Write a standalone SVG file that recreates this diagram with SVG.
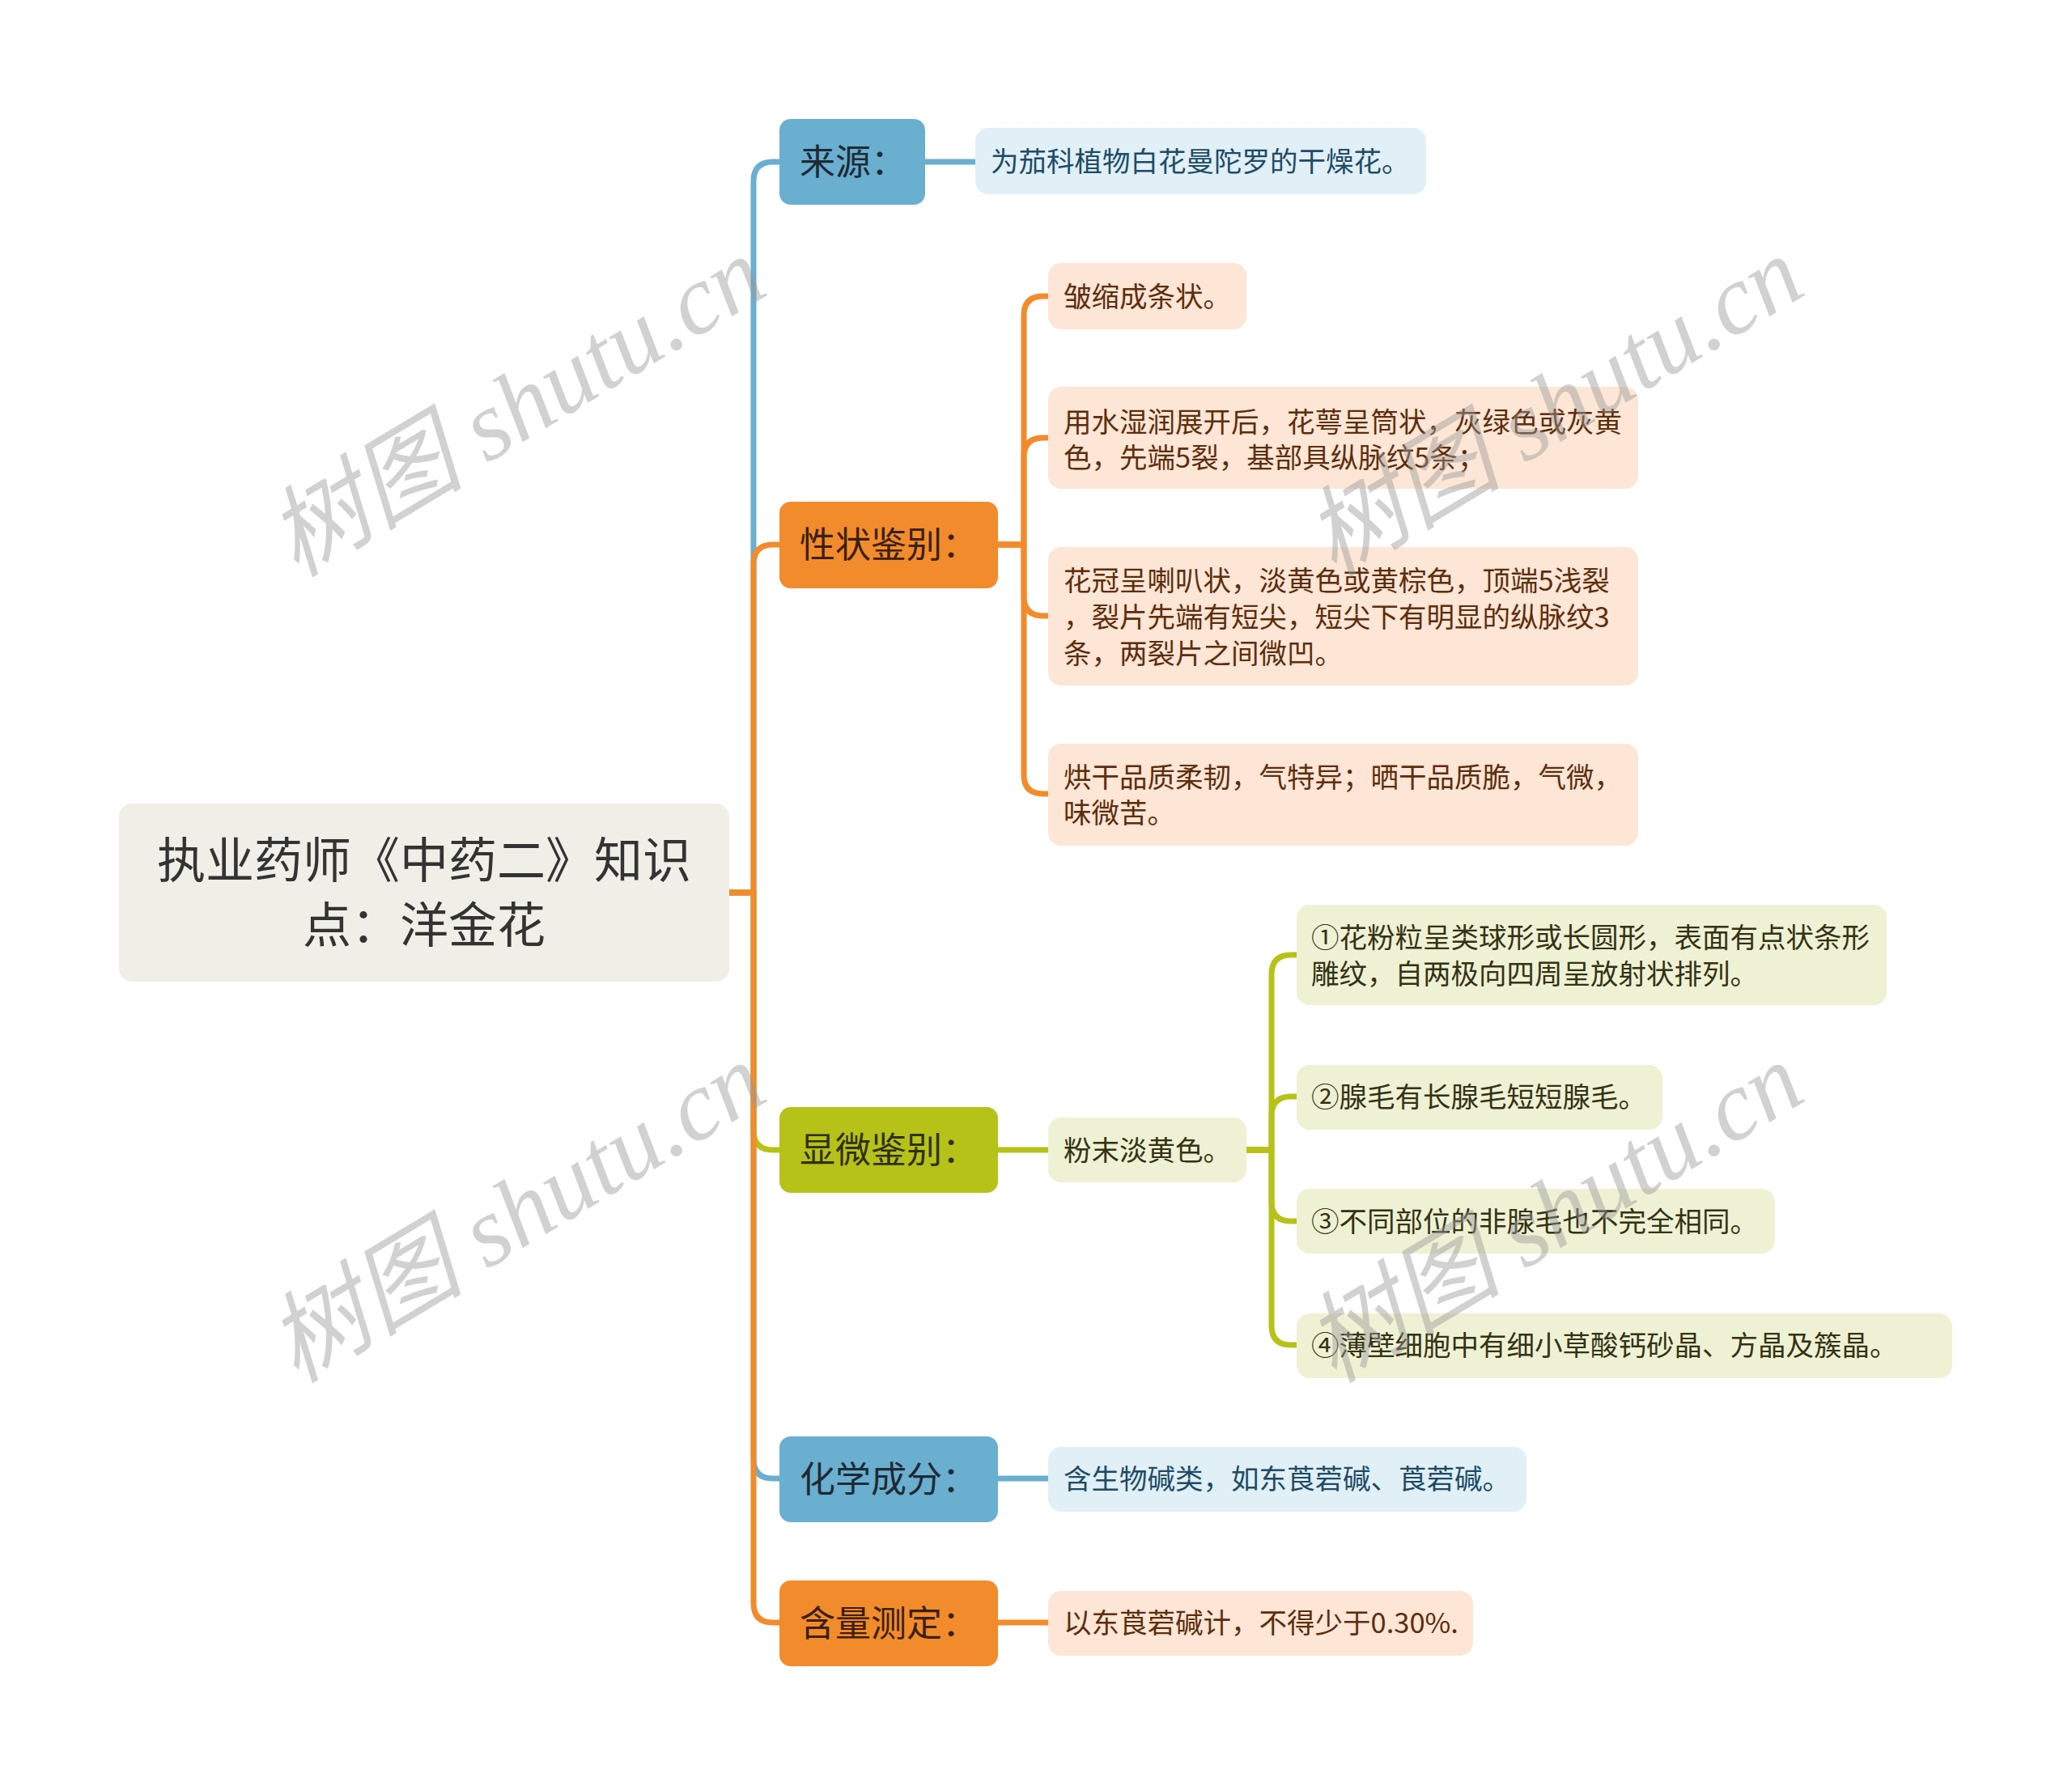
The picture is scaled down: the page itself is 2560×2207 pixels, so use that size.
<svg xmlns="http://www.w3.org/2000/svg" width="2560" height="2207" viewBox="0 0 2560 2207">
<style>
.cn{font-family:"Noto Sans CJK SC","Noto Sans",sans-serif}
.c{fill:none;stroke-width:7;stroke-linejoin:round}
.cb{stroke:#6aaed0}.co{stroke:#f28b2c}.cg{stroke:#b6c218}
.root{fill:#efefe7}
.bb{fill:#6aaed0}.bo{fill:#f28b2c}.bg{fill:#b6c218}
.lb{fill:#e1eff7}.lo{fill:#fde6d6}.lg{fill:#eff1d4}
.tr{font-size:60px;fill:#333333}
.tbr{font-size:44px}
.tl{font-size:34.5px}
.tb{fill:#1d4b68}.to{fill:#5e2d0c}.tg{fill:#333314}
.wm{font-family:"Liberation Serif","Noto Sans CJK SC",serif;font-style:italic;font-size:122px;fill:#9a9a9a;fill-opacity:0.45}
</style>
<rect width="2560" height="2207" fill="#ffffff"/>
<g id="connectors">
<path class="c cb" d="M901 1103 H931 V224 Q931 200 955 200 H963"/>
<path class="c cb" d="M1143 200 H1205"/>
<path class="c cb" d="M901 1103 H931 V1803 Q931 1827 955 1827 H963"/>
<path class="c cb" d="M1233 1827 H1295"/>
<path class="c cg" d="M901 1103 H931 V1397 Q931 1421 955 1421 H963"/>
<path class="c cg" d="M1233 1421 H1295"/>
<path class="c cg" d="M1540 1421 H1571 V1204 Q1571 1180 1595 1180 H1602"/>
<path class="c cg" d="M1540 1421 H1571 V1379 Q1571 1355 1595 1355 H1602"/>
<path class="c cg" d="M1540 1421 H1571 V1485 Q1571 1509 1595 1509 H1602"/>
<path class="c cg" d="M1540 1421 H1571 V1638 Q1571 1662 1595 1662 H1602"/>
<path class="c co" d="M901 1103 H931 V697 Q931 673 955 673 H963"/>
<path class="c co" d="M1233 673 H1265 V390 Q1265 366 1289 366 H1295"/>
<path class="c co" d="M1233 673 H1265 V565 Q1265 541 1289 541 H1295"/>
<path class="c co" d="M1233 673 H1265 V737 Q1265 761 1289 761 H1295"/>
<path class="c co" d="M1233 673 H1265 V957 Q1265 981 1289 981 H1295"/>
<path class="c co" d="M901 1103 H931 V1981 Q931 2005 955 2005 H963"/>
<path class="c co" d="M1233 2005 H1295"/>
</g>
<g id="root">
<rect class="root" x="147" y="993" width="754" height="220" rx="16"/>
<text class="cn tr" x="524" y="1085" text-anchor="middle">执业药师《中药二》知识</text>
<text class="cn tr" x="524" y="1165" text-anchor="middle">点：洋金花</text>
</g>
<g id="b1">
<rect class="bb" x="963" y="147" width="180" height="106" rx="14"/>
<text class="cn tbr" x="988" y="216" fill="#1f2a33">来源：</text>
</g>
<g id="b1l">
<rect class="lb" x="1205" y="158" width="557" height="82" rx="16"/>
<text class="cn tl tb" x="1224" y="212">为茄科植物白花曼陀罗的干燥花。</text>
</g>
<g id="b2">
<rect class="bo" x="963" y="620" width="270" height="107" rx="14"/>
<text class="cn tbr" x="988" y="689" fill="#3b1f08">性状鉴别：</text>
</g>
<g id="b2l1">
<rect class="lo" x="1295" y="325" width="245" height="82" rx="16"/>
<text class="cn tl to" x="1314" y="379">皱缩成条状。</text>
</g>
<g id="b2l2">
<rect class="lo" x="1295" y="478" width="729" height="126" rx="16"/>
<text class="cn tl to" x="1314" y="534">用水湿润展开后，花萼呈筒状，灰绿色或灰黄</text>
<text class="cn tl to" x="1314" y="578">色，先端5裂，基部具纵脉纹5条；</text>
</g>
<g id="b2l3">
<rect class="lo" x="1295" y="676" width="729" height="171" rx="16"/>
<text class="cn tl to" x="1314" y="730">花冠呈喇叭状，淡黄色或黄棕色，顶端5浅裂</text>
<text class="cn tl to" x="1314" y="775">，裂片先端有短尖，短尖下有明显的纵脉纹3</text>
<text class="cn tl to" x="1314" y="820">条，两裂片之间微凹。</text>
</g>
<g id="b2l4">
<rect class="lo" x="1295" y="919" width="729" height="126" rx="16"/>
<text class="cn tl to" x="1314" y="973">烘干品质柔韧，气特异；晒干品质脆，气微，</text>
<text class="cn tl to" x="1314" y="1017">味微苦。</text>
</g>
<g id="b3">
<rect class="bg" x="963" y="1368" width="270" height="106" rx="14"/>
<text class="cn tbr" x="988" y="1437" fill="#2f2f0c">显微鉴别：</text>
</g>
<g id="b3l">
<rect class="lg" x="1295" y="1381" width="245" height="80" rx="16"/>
<text class="cn tl tg" x="1314" y="1434">粉末淡黄色。</text>
</g>
<g id="b3s1">
<rect class="lg" x="1602" y="1118" width="729" height="124" rx="16"/>
<text class="cn tl tg" x="1620" y="1171">①花粉粒呈类球形或长圆形，表面有点状条形</text>
<text class="cn tl tg" x="1620" y="1216">雕纹，自两极向四周呈放射状排列。</text>
</g>
<g id="b3s2">
<rect class="lg" x="1602" y="1316" width="452" height="80" rx="16"/>
<text class="cn tl tg" x="1620" y="1368">②腺毛有长腺毛短短腺毛。</text>
</g>
<g id="b3s3">
<rect class="lg" x="1602" y="1469" width="591" height="80" rx="16"/>
<text class="cn tl tg" x="1620" y="1522">③不同部位的非腺毛也不完全相同。</text>
</g>
<g id="b3s4">
<rect class="lg" x="1602" y="1623" width="810" height="80" rx="16"/>
<text class="cn tl tg" x="1620" y="1675">④薄壁细胞中有细小草酸钙砂晶、方晶及簇晶。</text>
</g>
<g id="b4">
<rect class="bb" x="963" y="1775" width="270" height="106" rx="14"/>
<text class="cn tbr" x="988" y="1844" fill="#1f2a33">化学成分：</text>
</g>
<g id="b4l">
<rect class="lb" x="1295" y="1788" width="591" height="80" rx="16"/>
<text class="cn tl tb" x="1314" y="1840">含生物碱类，如东莨菪碱、莨菪碱。</text>
</g>
<g id="b5">
<rect class="bo" x="963" y="1953" width="270" height="106" rx="14"/>
<text class="cn tbr" x="988" y="2022" fill="#3b1f08">含量测定：</text>
</g>
<g id="b5l">
<rect class="lo" x="1295" y="1966" width="525" height="80" rx="16"/>
<text class="cn tl to" x="1314" y="2018">以东莨菪碱计，不得少于0.30%.</text>
</g>
<g id="watermarks">
<text class="wm" x="645" y="514" text-anchor="middle" dominant-baseline="middle" transform="rotate(-31 645 514)">树图 shutu.cn</text>
<text class="wm" x="1927" y="514" text-anchor="middle" dominant-baseline="middle" transform="rotate(-31 1927 514)">树图 shutu.cn</text>
<text class="wm" x="645" y="1510" text-anchor="middle" dominant-baseline="middle" transform="rotate(-31 645 1510)">树图 shutu.cn</text>
<text class="wm" x="1927" y="1510" text-anchor="middle" dominant-baseline="middle" transform="rotate(-31 1927 1510)">树图 shutu.cn</text>
</g>
</svg>
